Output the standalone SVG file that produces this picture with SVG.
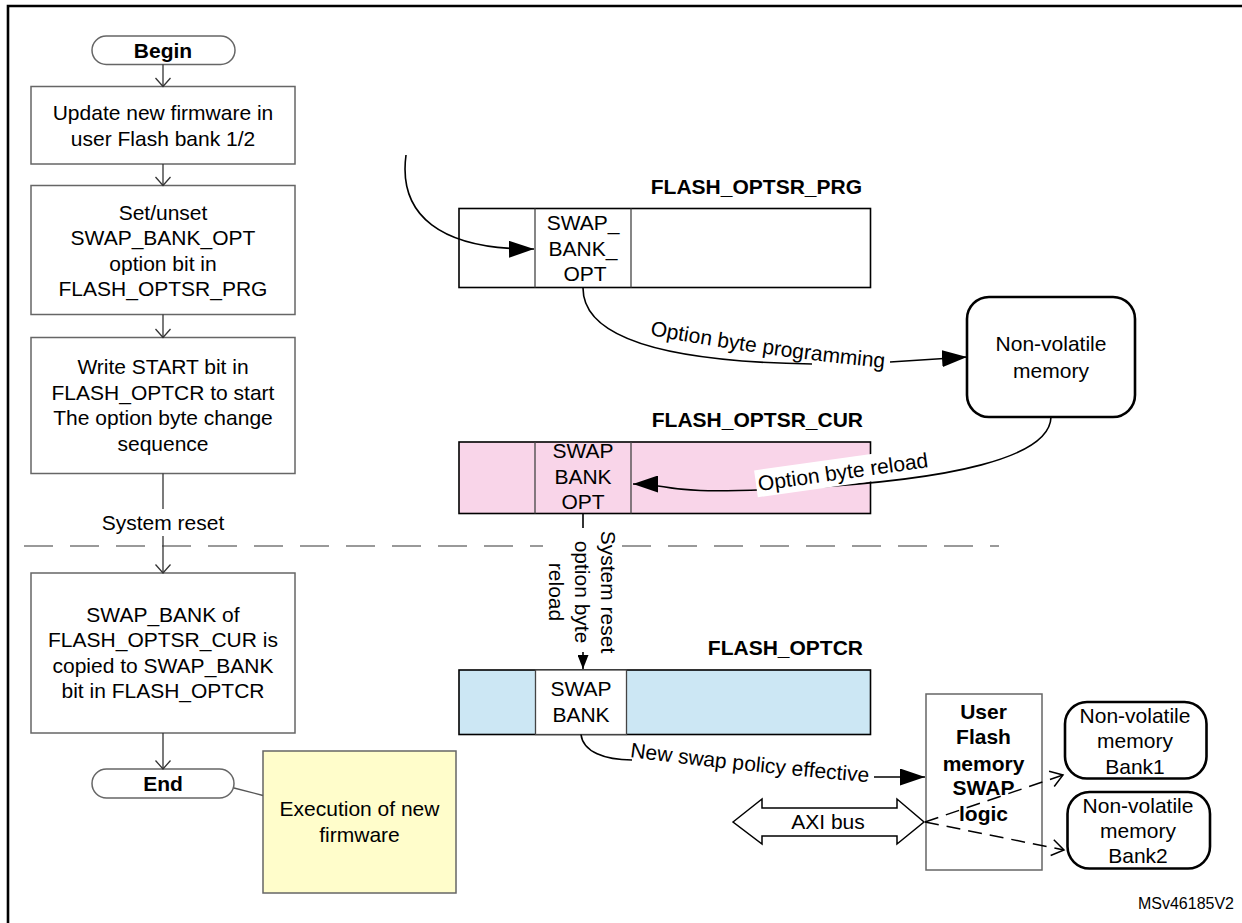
<svg xmlns="http://www.w3.org/2000/svg" width="1242" height="923" viewBox="0 0 1242 923">
<style>
.t{font-family:"Liberation Sans",Arial,sans-serif;font-size:21px;fill:#000;text-anchor:middle}
.b{font-weight:bold}
.e{text-anchor:end}
.st{text-anchor:start}
.box{fill:#fff;stroke:#666;stroke-width:1.5}
.reg{stroke:#000;stroke-width:1.6}
.nvm{fill:#fff;stroke:#000;stroke-width:2.6}
.fl{fill:none;stroke:#333;stroke-width:1.3}
.cn{fill:none;stroke:#000;stroke-width:1.6}
.dash{fill:none;stroke:#000;stroke-width:1.5;stroke-dasharray:14 8}
</style>
<defs>
<marker id="open" markerUnits="userSpaceOnUse" markerWidth="10" markerHeight="16" viewBox="0 0 10 16" refX="8.5" refY="8" orient="auto" overflow="visible">
<path d="M0,0.5 L8.5,8 L0,15.5" fill="none" stroke="#333" stroke-width="1.3"/>
</marker>
<marker id="open2" markerUnits="userSpaceOnUse" markerWidth="14" markerHeight="18" viewBox="0 0 14 18" refX="12" refY="9" orient="auto" overflow="visible">
<path d="M0,1 L12,9 L0,17" fill="none" stroke="#000" stroke-width="1.5"/>
</marker>
<marker id="fill" markerUnits="userSpaceOnUse" markerWidth="25" markerHeight="17" viewBox="0 0 25 17" refX="25" refY="8.5" orient="auto">
<path d="M0,0 L25,8.5 L0,17 z" fill="#000"/>
</marker>
<marker id="fillS" markerUnits="userSpaceOnUse" markerWidth="14" markerHeight="11" viewBox="0 0 14 11" refX="14" refY="5.5" orient="auto">
<path d="M0,0 L14,5.5 L0,11 z" fill="#000"/>
</marker>
<path id="tp1" d="M650,335 Q760,356 895,369"/>
<path id="tp2" d="M630,757 Q745,772 878,783"/>
</defs>

<g id="frame">
<path d="M8,923 L8,6 L1242,6" fill="none" stroke="#000" stroke-width="2.6"/>
</g>

<g id="separator">
<line x1="24" y1="546" x2="999" y2="546" stroke="#999" stroke-width="2" stroke-dasharray="29 17"/>
</g>

<g id="begin">
<rect x="92" y="36" width="143" height="28.5" rx="14.25" class="box"/>
<text class="t b" x="163" y="57.5">Begin</text>
</g>

<g id="step1">
<rect x="31" y="86.5" width="264" height="77.5" class="box"/>
<text class="t" x="163" y="120">Update new firmware in</text>
<text class="t" x="163" y="145.5">user Flash bank 1/2</text>
</g>

<g id="step2">
<rect x="31" y="185.5" width="264" height="129" class="box"/>
<text class="t" x="163" y="219.5">Set/unset</text>
<text class="t" x="163" y="245">SWAP_BANK_OPT</text>
<text class="t" x="163" y="270.5">option bit in</text>
<text class="t" x="163" y="296">FLASH_OPTSR_PRG</text>
</g>

<g id="step3">
<rect x="31" y="337.5" width="264" height="136" class="box"/>
<text class="t" x="163" y="374">Write START bit in</text>
<text class="t" x="163" y="399.5">FLASH_OPTCR to start</text>
<text class="t" x="163" y="425">The option byte change</text>
<text class="t" x="163" y="451">sequence</text>
</g>

<g id="system-reset-label">
<text class="t" x="163" y="530">System reset</text>
</g>

<g id="step4">
<rect x="31" y="573" width="264" height="160" class="box"/>
<text class="t" x="163" y="621.5">SWAP_BANK of</text>
<text class="t" x="163" y="647">FLASH_OPTSR_CUR is</text>
<text class="t" x="163" y="672.5">copied to SWAP_BANK</text>
<text class="t" x="163" y="698">bit in FLASH_OPTCR</text>
</g>

<g id="end">
<rect x="92" y="769" width="142" height="29" rx="14.5" class="box"/>
<text class="t b" x="163" y="791">End</text>
</g>

<g id="execution">
<rect x="263" y="751" width="193" height="142" fill="#FFFDCB" stroke="#666" stroke-width="1.5"/>
<text class="t" x="359.5" y="815.5">Execution of new</text>
<text class="t" x="359.5" y="841.5">firmware</text>
</g>

<g id="flash-optsr-prg">
<text class="t b e" x="862" y="194">FLASH_OPTSR_PRG</text>
<rect x="459" y="208.5" width="411.5" height="79" fill="#fff" class="reg"/>
<line x1="535" y1="208.5" x2="535" y2="287.5" stroke="#444" stroke-width="1.3"/>
<line x1="631" y1="208.5" x2="631" y2="287.5" stroke="#444" stroke-width="1.3"/>
<text class="t" x="583" y="230">SWAP_</text>
<text class="t" x="583" y="256">BANK_</text>
<text class="t" x="585" y="281">OPT</text>
</g>

<g id="option-byte-programming-label">
<text class="t st"><textPath href="#tp1">Option byte programming</textPath></text>
</g>

<g id="non-volatile-memory">
<rect x="967" y="297" width="168" height="120" rx="22" class="nvm"/>
<text class="t" x="1051" y="350.5">Non-volatile</text>
<text class="t" x="1051" y="377.5">memory</text>
</g>

<g id="flash-optsr-cur">
<text class="t b e" x="863" y="427">FLASH_OPTSR_CUR</text>
<rect x="459" y="442" width="411.5" height="71.5" fill="#F9D5E9" class="reg"/>
<line x1="535" y1="442" x2="535" y2="513.5" stroke="#444" stroke-width="1.3"/>
<line x1="631" y1="442" x2="631" y2="513.5" stroke="#444" stroke-width="1.3"/>
<text class="t" x="583" y="458">SWAP</text>
<text class="t" x="583" y="483.5">BANK</text>
<text class="t" x="583" y="509">OPT</text>
</g>

<g id="flash-optcr">
<text class="t b e" x="863" y="655">FLASH_OPTCR</text>
<rect x="459" y="670" width="411.5" height="64.5" fill="#CCE7F4" class="reg"/>
<rect x="535.5" y="670" width="91" height="64.5" fill="#fff" stroke="#444" stroke-width="1.3"/>
<text class="t" x="581" y="696">SWAP</text>
<text class="t" x="581" y="721.5">BANK</text>
</g>

<g id="new-swap-policy-label">
<text class="t st"><textPath href="#tp2">New swap policy effective</textPath></text>
</g>

<g id="swap-logic">
<rect x="926" y="694" width="116" height="176" class="box"/>
<text class="t b" x="983.5" y="719">User</text>
<text class="t b" x="983.5" y="744">Flash</text>
<text class="t b" x="983.5" y="770.5">memory</text>
<text class="t b" x="983.5" y="795">SWAP</text>
<text class="t b" x="983.5" y="820.5">logic</text>
</g>

<g id="axi-bus">
<polygon points="733,822 762,799 762,808 897,808 897,799 924,822 897,844 897,836 762,836 762,844" fill="#fff" stroke="#000" stroke-width="1.5"/>
<text class="t" x="828" y="829">AXI bus</text>
</g>

<g id="bank1">
<rect x="1065" y="702" width="141.5" height="76.5" rx="22" class="nvm"/>
<text class="t" x="1135" y="722.5">Non-volatile</text>
<text class="t" x="1135" y="747.5">memory</text>
<text class="t" x="1135" y="774">Bank1</text>
</g>

<g id="bank2">
<rect x="1067.5" y="792" width="142.5" height="76.5" rx="22" class="nvm"/>
<text class="t" x="1138" y="812.5">Non-volatile</text>
<text class="t" x="1138" y="837.5">memory</text>
<text class="t" x="1138" y="862.5">Bank2</text>
</g>

<g id="figure-id">
<text class="t e" x="1234" y="909" style="font-size:16px">MSv46185V2</text>
</g>

<g id="connectors">
<path class="fl" d="M163,64.5 L163,86.5" marker-end="url(#open)"/>
<path class="fl" d="M163,164 L163,185.5" marker-end="url(#open)"/>
<path class="fl" d="M163,314.5 L163,337.5" marker-end="url(#open)"/>
<path class="fl" d="M163,473.5 L163,509"/>
<path class="fl" d="M163,536 L163,573" marker-end="url(#open)"/>
<path class="fl" d="M163,733 L163,769" marker-end="url(#open)"/>
<path d="M234,788 L263,795.5" fill="none" stroke="#555" stroke-width="1.3"/>
<path class="cn" d="M406,155 C398,215 440,250 534,249" marker-end="url(#fill)"/>
<path class="cn" d="M583,288 C583,342 680,362 812,364"/>
<path class="cn" d="M890,362 L967,357" marker-end="url(#fill)"/>
<path class="cn" d="M1051,417 C1050,458 950,480 800,488 S680,484 633,484" marker-end="url(#fill)"/>
<path class="cn" d="M581,734.5 C583,752 605,760 632,760"/>
<path class="cn" d="M874,777 L925,777" marker-end="url(#fill)"/>
<path class="dash" d="M925,822 L1063,775" marker-end="url(#open2)"/>
<path class="dash" d="M925,822 L1064,850" marker-end="url(#open2)"/>
<path class="cn" d="M583,513.5 L583,669" marker-end="url(#fillS)"/>
</g>

<g id="reload-label">
<g transform="translate(759,491) rotate(-8)">
<rect x="-2" y="-21" width="176" height="27" fill="#fff"/>
<text class="t st" x="0" y="0">Option byte reload</text>
</g>
</g>

<g id="system-reset-reload-label">
<rect x="543" y="528" width="79" height="124" fill="#fff"/>
<g transform="translate(582,592) rotate(90)">
<text class="t" x="0" y="-18.5">System reset</text>
<text class="t" x="0" y="7.5">option byte</text>
<text class="t" x="0" y="33.5">reload</text>
</g>
</g>
</svg>
